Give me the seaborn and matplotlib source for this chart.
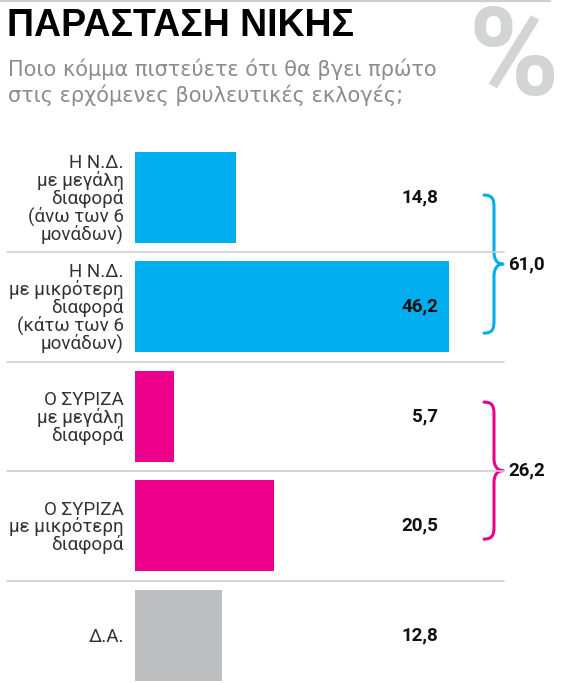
import matplotlib
matplotlib.use("Agg")
import matplotlib.pyplot as plt
from matplotlib.transforms import Affine2D, blended_transform_factory
from matplotlib.path import Path
from matplotlib.patches import PathPatch
from matplotlib.lines import Line2D
import seaborn as sns
import pandas as pd

# ---- data ----
categories = [
    "Η Ν.Δ.\nμε μεγάλη\nδιαφορά\n(άνω των 6\nμονάδων)",
    "Η Ν.Δ.\nμε μικρότερη\nδιαφορά\n(κάτω των 6\nμονάδων)",
    "Ο ΣΥΡΙΖΑ\nμε μεγάλη\nδιαφορά",
    "Ο ΣΥΡΙΖΑ\nμε μικρότερη\nδιαφορά",
    "Δ.Α.",
]
values = [14.8, 46.2, 5.7, 20.5, 12.8]
value_labels = ["14,8", "46,2", "5,7", "20,5", "12,8"]
bar_colors = ["#00AEEF", "#00AEEF", "#EC008C", "#EC008C", "#BCBEC0"]
groups = [[0, 1], [2, 3]]
group_colors = ["#00AEEF", "#EC008C"]
title = "ΠΑΡΑΣΤΑΣΗ ΝΙΚΗΣ"
subtitle_lines = ["Ποιο κόμμα πιστεύετε ότι θα βγει πρώτο",
                  "στις ερχόμενες βουλευτικές εκλογές;"]

df = pd.DataFrame({"label": categories, "value": values})

sns.set_theme(style="white")
plt.rcParams["font.family"] = ["Roboto", "DejaVu Sans"]

W, H = 570, 683
fig = plt.figure(figsize=(W / 100, H / 100), dpi=100)
px = Affine2D().scale(1 / W, -1 / H).translate(0, 1) + fig.transFigure

ppu = 6.8  # pixels per unit
ax_left, ax_right = 135, 505
ax_top = 142.5
ax = fig.add_axes([ax_left / W, 0, (ax_right - ax_left) / W, (H - ax_top) / H])
sns.barplot(data=df, x="value", y="label", hue="label", palette=bar_colors,
            orient="h", width=0.83, saturation=1, legend=False, ax=ax,
            edgecolor="none", linewidth=0)
ax.set_xlim(0, (ax_right - ax_left) / ppu)
row_pitch = 109.5
ax.set_ylim((H - 197.5) / row_pitch, -0.5)
for s in ax.spines.values():
    s.set_visible(False)
ax.set_xticks([])
ax.set_xlabel("")
ax.set_ylabel("")
ax.tick_params(axis="y", length=0, pad=8)
for lab in ax.get_yticklabels():
    lab.set_fontsize(13.5)
    lab.set_color("#333333")
    lab.set_fontweight("normal")
    lab.set_linespacing(0.92)

blend = blended_transform_factory(px, ax.transData)

# separators
for y in [0.5, 1.5, 2.5, 3.5]:
    ax.add_line(Line2D([7, 504], [y, y], transform=blend, color="#d0d0d0",
                       lw=1.2, clip_on=False))
fig.add_artist(Line2D([0, 550], [1, 1], transform=px, color="#cfcfcf", lw=1.6))

# value labels
for i, t in enumerate(value_labels):
    ax.text(438, i, t, transform=blend, ha="right", va="center",
            fontsize=13.5, fontweight="bold", color="#111111")

# braces
brace_ext = [(-0.02, 1.24), (1.87, 3.12)]
for g, col, (t, b) in zip(groups, group_colors, brace_ext):
    x0, x1, x2 = 484, 494, 503
    m = (t + b) / 2
    r = 0.11
    verts = [(x0, t), (x1 - 2, t), (x1, t + r * 0.3), (x1, t + r),
             (x1, m - r),
             (x1, m - r * 0.3), (x1 + 4, m), (x2, m),
             (x1 + 4, m), (x1, m + r * 0.3), (x1, m + r),
             (x1, b - r),
             (x1, b - r * 0.3), (x1 - 2, b), (x0, b)]
    codes = [Path.MOVETO, Path.CURVE4, Path.CURVE4, Path.CURVE4,
             Path.LINETO,
             Path.CURVE4, Path.CURVE4, Path.CURVE4,
             Path.CURVE4, Path.CURVE4, Path.CURVE4,
             Path.LINETO,
             Path.CURVE4, Path.CURVE4, Path.CURVE4]
    ax.add_patch(PathPatch(Path(verts, codes), transform=blend, fill=False,
                           edgecolor=col, lw=2.2, clip_on=False,
                           capstyle="round", joinstyle="round"))
    total = sum(values[k] for k in g)
    ax.text(508, m, f"{total:.1f}".replace(".", ","), transform=blend,
            ha="left", va="center", fontsize=13.5, fontweight="bold",
            color="#111111")

# title, subtitle, percent
fig.text(7, 36.5, title, transform=px, ha="left", va="baseline",
         fontsize=27, fontweight="bold", family=["Liberation Sans", "DejaVu Sans"],
         color="#000000")
for k, line in enumerate(subtitle_lines):
    fig.text(8, 75.5 + 27 * k, line, transform=px, ha="left", va="baseline",
             fontsize=15, family=["DejaVu Sans"], color="#8c8c8c")
fig.text(514, 95, "%", transform=px, ha="center", va="baseline",
         fontsize=88, fontweight="bold", color="#d3d4d6")

fig.savefig("out.png", dpi=100)
